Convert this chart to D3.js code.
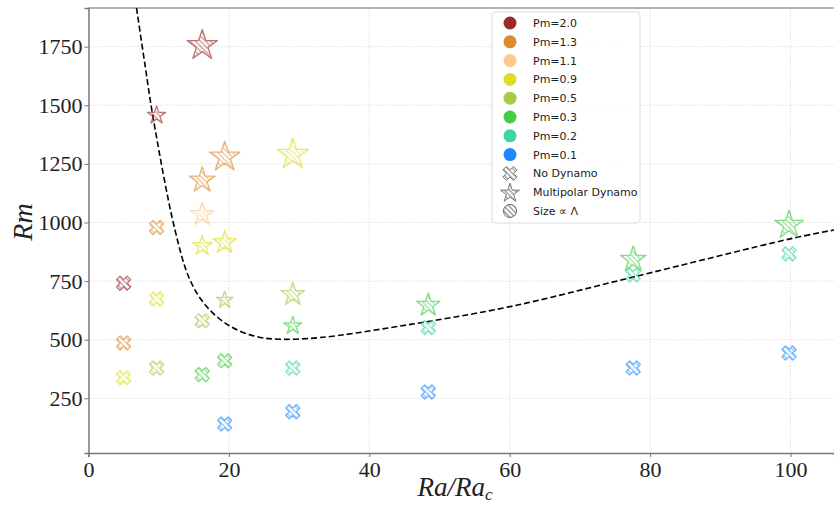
<!DOCTYPE html>
<html><head><meta charset="utf-8">
<script src="https://cdn.jsdelivr.net/npm/d3@7"></script>
<style>body{margin:0;background:#fff}</style>
</head><body><svg id="c" width="834" height="507"></svg>
<script>
// ---- data ----
const pmLabels = ["2.0","1.3","1.1","0.9","0.5","0.3","0.2","0.1"];
const pmColors = ["#9a2a2a","#dd8a2c","#ffc98c","#dddd2a","#a6cc44","#44cc44","#3dd6a0","#1e88ff"];

const raRatio  = [16.2, 9.7, 5.0, 19.4, 16.2, 9.7, 5.0, 16.2, 29.1, 19.4, 16.2, 9.7, 5.0, 29.1, 19.4, 16.2, 9.7, 29.1, 48.4, 77.6, 99.8, 19.4, 16.2, 29.1, 48.4, 77.6, 99.8, 19.4, 29.1, 48.4, 77.6, 99.8];
const rmValues = [1755, 1457, 741, 1279, 1180, 979, 486, 1034, 1290, 915, 900, 674, 338, 693, 669, 581, 379, 559, 647, 842, 989, 410, 351, 379, 552, 776, 866, 140, 193, 277, 379, 443];
const pmOf     = ["2.0","2.0","2.0","1.3","1.3","1.3","1.3","1.1","0.9","0.9","0.9","0.9","0.9","0.5","0.5","0.5","0.5","0.3","0.3","0.3","0.3","0.3","0.3","0.2","0.2","0.2","0.2","0.1","0.1","0.1","0.1","0.1"];
const dynamo   = ["multi","multi","none","multi","multi","none","none","multi","multi","multi","multi","none","none","multi","multi","none","none","multi","multi","multi","multi","none","none","none","none","none","none","none","none","none","none","none"];
const lambdaVals = [16, 9.5, 0, 16, 13.5, 0, 0, 12.3, 16.5, 12.3, 10.5, 0, 0, 12.5, 9, 0, 0, 9.5, 12.3, 13.7, 15, 0, 0, 0, 0, 0, 0, 0, 0, 0, 0, 0];

const curveRa = [6.84, 8.05, 9.19, 12.32, 14.46, 16.84, 20.16, 23.96, 27.28, 32.98, 44.37, 60.04, 77.56, 99.93, 106.2];
const curveRm = [1915, 1672, 1450, 968, 755, 641, 558, 513, 502, 509, 558, 641, 767, 930, 968];

const xTicks = [0, 20, 40, 60, 80, 100];
const yTicks = [250, 500, 750, 1000, 1250, 1500, 1750];
const legendExtra = ["No Dynamo", "Multipolar Dynamo", "Size \u221d \u039b"];

// ---- layout ----
const svg = d3.select("#c");
const x = d3.scaleLinear().domain([0, 106.2]).range([88.5, 834]);
const y = d3.scaleLinear().domain([16.6, 1915]).range([453, 8]);
const rScale = d3.scaleLinear().domain([0, 20]).range([0, 20]);
const colorOf = d3.scaleOrdinal().domain(pmLabels).range(pmColors);

const defs = svg.append("defs");
function hatch(id, color) {
  const p = defs.append("pattern").attr("id", id).attr("patternUnits", "userSpaceOnUse")
    .attr("width", 3.6).attr("height", 3.6).attr("patternTransform", "rotate(-45)");
  p.append("rect").attr("x", 1.3).attr("y", 0).attr("width", 1.0).attr("height", 3.6).attr("fill", color);
}
pmLabels.forEach((l, i) => hatch("h" + i, pmColors[i]));
hatch("hg", "#555");

const clip = defs.append("clipPath").attr("id", "plotclip");
clip.append("rect").attr("x", 88.5).attr("y", 8).attr("width", 834 - 88.5).attr("height", 445);

// grid
const grid = svg.append("g");
grid.selectAll("line.vx").data(xTicks.slice(1)).join("line")
  .attr("x1", d => x(d)).attr("x2", d => x(d)).attr("y1", 8).attr("y2", 453)
  .attr("stroke", "#e6e6e6").attr("stroke-width", 1).attr("stroke-dasharray", "2,1");
grid.selectAll("line.hy").data(yTicks).join("line")
  .attr("x1", 88.5).attr("x2", 834).attr("y1", d => y(d)).attr("y2", d => y(d))
  .attr("stroke", "#e6e6e6").attr("stroke-width", 1).attr("stroke-dasharray", "2,1");

// top spine
svg.append("line").attr("x1", 88.5).attr("x2", 834).attr("y1", 8).attr("y2", 8).attr("stroke", "#666").attr("stroke-width", 1.2);

// axes
const xAxis = svg.append("g").attr("transform", "translate(0,453)")
  .call(d3.axisBottom(x).tickValues(xTicks).tickSize(4).tickPadding(4).tickFormat(d3.format("d")));
const yAxis = svg.append("g").attr("transform", "translate(88.5,0)")
  .call(d3.axisLeft(y).tickValues(yTicks).tickSize(4).tickPadding(2).tickFormat(d3.format("d")));
[xAxis, yAxis].forEach(a => {
  a.select(".domain").attr("stroke", "#777").attr("stroke-width", 1.5);
  a.selectAll(".tick line").attr("stroke", "#777");
  a.selectAll("text").attr("font-family", "'Liberation Serif', serif").attr("font-size", 22).attr("fill", "#222");
});

// dashed curve
const plot = svg.append("g").attr("clip-path", "url(#plotclip)");
const curvePts = curveRa.map((r, i) => [r, curveRm[i]]);
plot.append("path").datum(curvePts)
  .attr("d", d3.line().x(d => x(d[0])).y(d => y(d[1])).curve(d3.curveCatmullRom.alpha(0.5)))
  .attr("fill", "none").attr("stroke", "#000").attr("stroke-width", 1.6).attr("stroke-dasharray", "6,3");

// marker shapes
function starPath(R) {
  const pts = [];
  for (let k = 0; k < 10; k++) {
    const a = -Math.PI / 2 + k * Math.PI / 5;
    const rr = k % 2 === 0 ? R : R * 0.381966;
    pts.push([rr * Math.cos(a), rr * Math.sin(a)]);
  }
  return "M" + pts.map(p => p[0].toFixed(2) + "," + p[1].toFixed(2)).join("L") + "Z";
}
function crossPath(s) {
  const base = [[-1,-3],[1,-3],[1,-1],[3,-1],[3,1],[1,1],[1,3],[-1,3],[-1,1],[-3,1],[-3,-1],[-1,-1]];
  const c = Math.SQRT1_2;
  const pts = base.map(([a, b]) => [(a * c - b * c) * s / 6, (a * c + b * c) * s / 6]);
  return "M" + pts.map(p => p[0].toFixed(2) + "," + p[1].toFixed(2)).join("L") + "Z";
}

const points = raRatio.map((r, i) => ({ ra: r, rm: rmValues[i], pm: pmOf[i], type: dynamo[i], lam: lambdaVals[i] }));
plot.selectAll("path.pt").data(points).join("path")
  .attr("class", "pt")
  .attr("transform", d => `translate(${x(d.ra)},${y(d.rm)})`)
  .attr("d", d => d.type === "multi" ? starPath(rScale(d.lam)) : crossPath(15))
  .attr("fill", d => `url(#h${pmLabels.indexOf(d.pm)})`)
  .attr("stroke", d => colorOf(d.pm))
  .attr("stroke-width", 1.3)
  .attr("stroke-linejoin", "round")
  .attr("opacity", 0.65);

// legend
const lg = svg.append("g");
lg.append("rect").attr("x", 492).attr("y", 12).attr("width", 148).attr("height", 211).attr("rx", 3)
  .attr("fill", "#fff").attr("fill-opacity", 0.85).attr("stroke", "#ddd");
const rowY = i => 23 + i * 18.8;
pmLabels.forEach((l, i) => {
  lg.append("circle").attr("cx", 510).attr("cy", rowY(i)).attr("r", 6.5).attr("fill", pmColors[i]);
  lg.append("text").attr("x", 533).attr("y", rowY(i)).attr("dy", "0.36em")
    .attr("font-family", "'DejaVu Sans', sans-serif").attr("font-size", 11).attr("fill", "#222").text("Pm=" + l);
});
const n = pmLabels.length;
lg.append("path").attr("transform", `translate(510,${rowY(n)})`).attr("d", crossPath(15))
  .attr("fill", "url(#hg)").attr("stroke", "#555").attr("stroke-width", 1).attr("opacity", 0.8);
lg.append("path").attr("transform", `translate(510,${rowY(n + 1) + 1})`).attr("d", starPath(10))
  .attr("fill", "url(#hg)").attr("stroke", "#555").attr("stroke-width", 1).attr("opacity", 0.8);
lg.append("circle").attr("cx", 510).attr("cy", rowY(n + 2)).attr("r", 6.5)
  .attr("fill", "url(#hg)").attr("stroke", "#555").attr("stroke-width", 1).attr("opacity", 0.9);
legendExtra.forEach((t, j) => {
  lg.append("text").attr("x", 533).attr("y", rowY(n + j)).attr("dy", "0.36em")
    .attr("font-family", "'DejaVu Sans', sans-serif").attr("font-size", 11).attr("fill", "#222").text(t);
});

// axis labels
svg.append("text").attr("transform", "translate(32,222) rotate(-90)").attr("text-anchor", "middle")
  .attr("font-family", "'Liberation Serif', serif").attr("font-style", "italic").attr("font-size", 28).attr("fill", "#222").text("Rm");
const xl = svg.append("text").attr("x", 455).attr("y", 496).attr("text-anchor", "middle")
  .attr("font-family", "'Liberation Serif', serif").attr("font-style", "italic").attr("font-size", 27).attr("fill", "#222");
xl.append("tspan").text("Ra/Ra");
xl.append("tspan").attr("font-size", 17).attr("dy", 4).text("c");
</script></body></html>
